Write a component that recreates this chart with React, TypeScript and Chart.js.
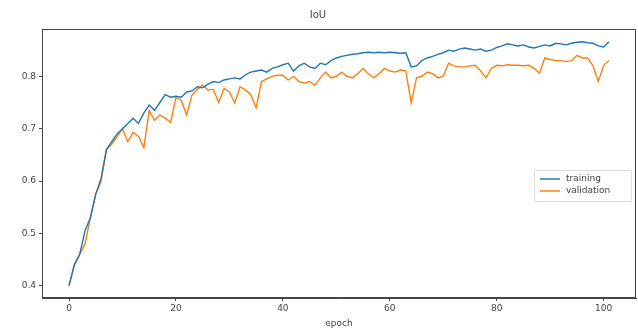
import React, { useEffect, useRef } from "react";
import { Chart, registerables } from "chart.js";

Chart.register(...registerables);

const epochs: number[] = Array.from({ length: 102 }, (_, i) => i);

const training: number[] = [
  0.400, 0.440, 0.460, 0.505, 0.530, 0.575, 0.605, 0.660, 0.675, 0.690,
  0.700, 0.710, 0.720, 0.710, 0.730, 0.745, 0.735, 0.750, 0.765, 0.760,
  0.762, 0.760, 0.770, 0.772, 0.780, 0.778, 0.785, 0.790, 0.788, 0.793,
  0.795, 0.797, 0.795, 0.803, 0.808, 0.810, 0.812, 0.808, 0.815, 0.818,
  0.822, 0.825, 0.810, 0.820, 0.825, 0.818, 0.815, 0.825, 0.822, 0.830,
  0.835, 0.838, 0.840, 0.842, 0.843, 0.845, 0.846, 0.845, 0.846, 0.845,
  0.846, 0.845, 0.844, 0.845, 0.818, 0.820, 0.830, 0.835, 0.838, 0.842,
  0.845, 0.850, 0.848, 0.852, 0.854, 0.852, 0.850, 0.852, 0.848, 0.850,
  0.855, 0.858, 0.862, 0.860, 0.858, 0.860, 0.856, 0.854, 0.857, 0.860,
  0.858, 0.863, 0.862, 0.860, 0.863, 0.865, 0.866, 0.864, 0.863, 0.858,
  0.856, 0.866,
];

const validation: number[] = [
  0.400, 0.440, 0.460, 0.480, 0.530, 0.575, 0.600, 0.660, 0.670, 0.685,
  0.700, 0.675, 0.693, 0.685, 0.664, 0.735, 0.716, 0.726, 0.720, 0.712,
  0.760, 0.754, 0.726, 0.764, 0.775, 0.783, 0.774, 0.775, 0.750, 0.777,
  0.770, 0.749, 0.780, 0.774, 0.765, 0.740, 0.790, 0.795, 0.800, 0.802,
  0.802, 0.793, 0.800, 0.790, 0.787, 0.790, 0.783, 0.797, 0.808, 0.797,
  0.800, 0.808, 0.800, 0.797, 0.805, 0.815, 0.805, 0.797, 0.805, 0.815,
  0.810, 0.808, 0.812, 0.810, 0.749, 0.797, 0.800, 0.808, 0.805, 0.797,
  0.800, 0.825, 0.820, 0.818, 0.818, 0.820, 0.821, 0.810, 0.797, 0.815,
  0.821, 0.820, 0.822, 0.821, 0.821, 0.820, 0.821, 0.815, 0.806, 0.835,
  0.832, 0.830, 0.830, 0.828, 0.830, 0.840, 0.835, 0.835, 0.820, 0.790,
  0.821, 0.830,
];

const xTicks: number[] = [0, 20, 40, 60, 80, 100];
const yTicks: number[] = [0.4, 0.5, 0.6, 0.7, 0.8];
const seriesNames: string[] = ["training", "validation"];
const seriesColors: string[] = ["#1f77b4", "#ff7f0e"];

const FONT = "'DejaVu Sans', sans-serif";
const TEXT = "#444";
const AXIS = "#444";

const framePlugin = {
  id: "frame",
  afterDraw(chart: any) {
    const { ctx, chartArea } = chart;
    ctx.save();
    ctx.strokeStyle = AXIS;
    ctx.lineWidth = 1;
    ctx.strokeRect(
      Math.round(chartArea.left) + 0.5,
      Math.round(chartArea.top) + 0.5,
      Math.round(chartArea.right - chartArea.left) - 1,
      Math.round(chartArea.bottom - chartArea.top) - 1
    );
    // legend
    const bx = chartArea.right - 102;
    const by = chartArea.top + 141;
    const bw = 97;
    const bh = 31;
    ctx.fillStyle = "rgba(255,255,255,0.85)";
    ctx.strokeStyle = "#ddd";
    ctx.beginPath();
    ctx.rect(bx + 0.5, by + 0.5, bw, bh);
    ctx.fill();
    ctx.stroke();
    ctx.font = `9px ${FONT}`;
    ctx.textBaseline = "middle";
    ctx.textAlign = "left";
    seriesNames.forEach((name, i) => {
      const y = by + 9 + i * 12;
      ctx.strokeStyle = seriesColors[i];
      ctx.lineWidth = 1.5;
      ctx.beginPath();
      ctx.moveTo(bx + 6, y);
      ctx.lineTo(bx + 26, y);
      ctx.stroke();
      ctx.fillStyle = TEXT;
      ctx.fillText(name, bx + 32, y);
    });
    ctx.restore();
  },
};

export default function App() {
  const ref = useRef<HTMLCanvasElement | null>(null);

  useEffect(() => {
    document.body.style.margin = "0";
    const canvas = ref.current;
    if (!canvas) return;
    const chart = new Chart(canvas, {
      type: "line",
      data: {
        labels: epochs,
        datasets: [
          {
            label: seriesNames[0],
            data: epochs.map((e, i) => ({ x: e, y: training[i] })),
            borderColor: seriesColors[0],
            borderWidth: 1.4,
            pointRadius: 0,
            tension: 0,
            fill: false,
          },
          {
            label: seriesNames[1],
            data: epochs.map((e, i) => ({ x: e, y: validation[i] })),
            borderColor: seriesColors[1],
            borderWidth: 1.4,
            pointRadius: 0,
            tension: 0,
            fill: false,
          },
        ],
      },
      options: {
        animation: false,
        responsive: false,
        maintainAspectRatio: false,
        layout: { padding: { top: 0, right: 2, bottom: 2, left: 0 } },
        plugins: {
          legend: { display: false },
          tooltip: { enabled: false },
          title: {
            display: true,
            text: "IoU",
            color: TEXT,
            font: { family: FONT, size: 10, weight: "normal" },
            padding: { top: 9, bottom: 8 },
          },
        },
        scales: {
          x: {
            type: "linear",
            min: -5.05,
            max: 106.05,
            afterBuildTicks: (scale: any) => {
              scale.ticks = xTicks.map((v) => ({ value: v }));
            },
            afterFit: (scale: any) => {
              scale.height = 31;
            },
            ticks: {
              color: TEXT,
              font: { family: FONT, size: 9 },
              padding: 2,
              maxRotation: 0,
              autoSkip: false,
            },
            grid: {
              display: true,
              drawOnChartArea: false,
              drawTicks: true,
              tickLength: 3,
              color: AXIS,
            },
            border: { display: true, color: AXIS },
            title: {
              display: true,
              text: "epoch",
              color: TEXT,
              font: { family: FONT, size: 9 },
              padding: { top: 0, bottom: 0 },
            },
          },
          y: {
            type: "linear",
            min: 0.3767,
            max: 0.8903,
            afterBuildTicks: (scale: any) => {
              scale.ticks = yTicks.map((v) => ({ value: v }));
            },
            afterFit: (scale: any) => {
              scale.width = 42;
            },
            ticks: {
              color: TEXT,
              font: { family: FONT, size: 9 },
              padding: 3,
              callback: (v: any) => Number(v).toFixed(1),
            },
            grid: {
              display: true,
              drawOnChartArea: false,
              drawTicks: true,
              tickLength: 3,
              color: AXIS,
            },
            border: { display: true, color: AXIS },
          },
        },
      },
      plugins: [framePlugin],
    } as any);
    return () => chart.destroy();
  }, []);

  return (
    <div style={{ position: "absolute", left: 0, top: 0, width: 638, height: 331, background: "#fff" }}>
      <canvas ref={ref} width={638} height={331} style={{ width: 638, height: 331, display: "block" }} />
    </div>
  );
}
